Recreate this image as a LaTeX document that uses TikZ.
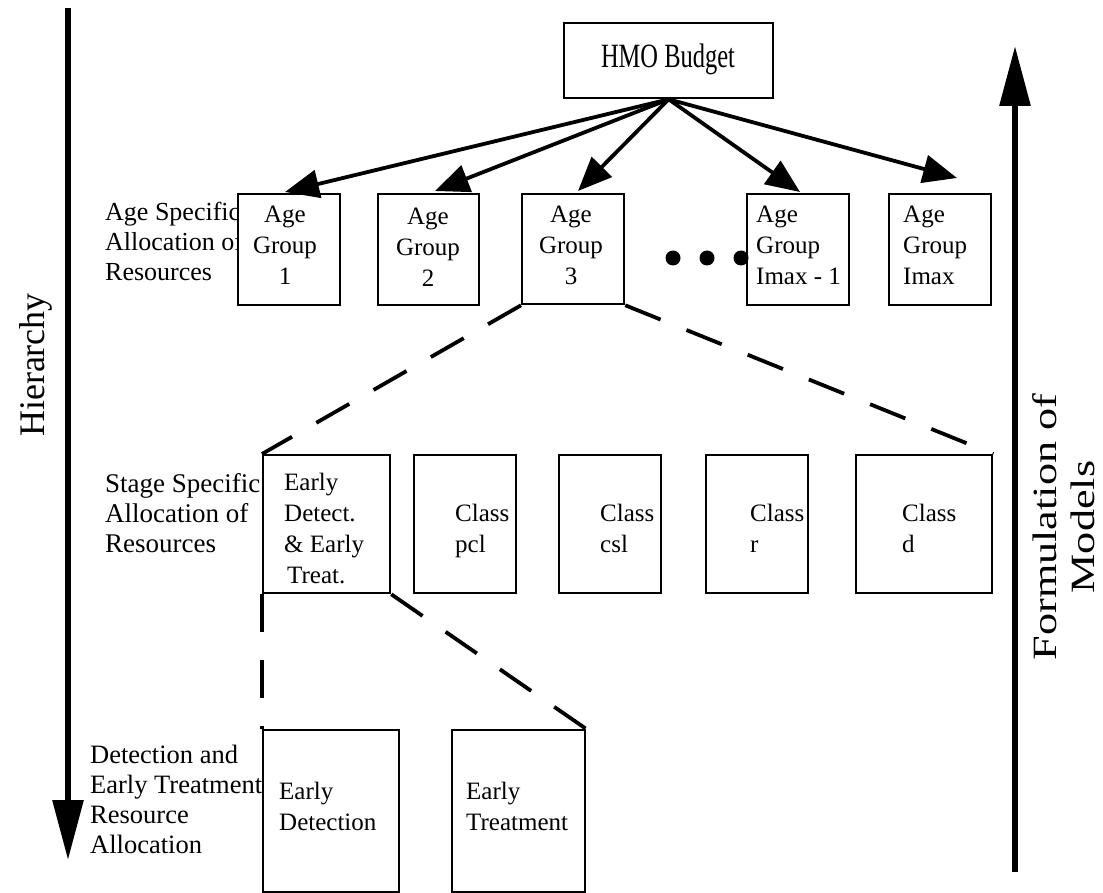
\documentclass[tikz,border=0pt]{standalone}
\usepackage{fontspec}
\setmainfont{Liberation Serif}
\usetikzlibrary{arrows.meta}
\begin{document}
\begin{tikzpicture}[x=1pt,y=-1pt,
  box/.style={draw, line width=2.3pt, fill=white, inner sep=0pt, anchor=north west},
  txt/.style={font=\fontsize{25}{31}\selectfont, inner sep=0pt, anchor=north west, align=left},
  ctxt/.style={font=\fontsize{25}{31}\selectfont, inner sep=0pt, anchor=north, align=center},
  lbl/.style={font=\fontsize{26}{30}\selectfont, inner sep=0pt, anchor=north west, align=left},
  fan/.style={line width=3.8pt, -{Triangle[length=34pt,width=28pt]}},
  dashline/.style={line width=3.8pt, dash pattern=on 38pt off 28pt},
  bigarrow/.style={line width=6pt, -{Triangle[length=60pt,width=30pt]}},
  dot/.style={circle, fill=black, inner sep=0pt, minimum size=15pt}
]
\useasboundingbox (0,0) rectangle (1103,893);

% side arrows
\coordinate (hTop) at (68,8);
\coordinate (hBot) at (68,860);
\draw[bigarrow] (hTop) -- (hBot);
\node[rotate=90, font=\fontsize{36}{40}\selectfont, inner sep=0pt] (hier) at (36,365) {Hierarchy};

\coordinate (fBot) at (1015,872);
\coordinate (fTop) at (1015,46);
\draw[bigarrow] (fBot) -- (fTop);
\node[rotate=90, font=\fontsize{34}{38}\selectfont, inner sep=0pt, align=center] (form) at (1064,527) {\scalebox{1.3}[1]{Formulation of}\\\scalebox{1.3}[1]{Models}};

% left labels (drawn before boxes so boxes cover them)
\node[lbl] (lab1) at (105,202) {Age Specific\\Allocation of\\Resources};
\node[lbl, font=\fontsize{27}{30}\selectfont] (lab2) at (105,473) {Stage Specific\\Allocation of\\Resources};
\node[lbl, font=\fontsize{26.5}{30}\selectfont] (lab3) at (90,745) {Detection and\\Early Treatment\\Resource\\Allocation};

% top box
\node[box, minimum width=209pt, minimum height=75pt] (hmo) at (563,22) {};
\node[font=\fontsize{34}{38}\selectfont, inner sep=0pt] (hmot) at (668,59) {\scalebox{0.72}[1]{HMO Budget}};

% age group boxes
\node[box, minimum width=102pt, minimum height=111pt] (ag1) at (237,193) {};
\node[box, minimum width=101pt, minimum height=111pt] (ag2) at (377,193) {};
\node[box, minimum width=102pt, minimum height=110pt] (ag3) at (521,193) {};
\node[box, minimum width=102pt, minimum height=111pt] (ag4) at (746,193) {};
\node[box, minimum width=102pt, minimum height=111pt] (ag5) at (888,193) {};
\node[ctxt] (ag1t) at (285,206) {Age\\Group\\1};
\node[ctxt] (ag2t) at (428,208) {Age\\Group\\2};
\node[ctxt] (ag3t) at (571,206) {Age\\Group\\3};
\node[txt] (ag4t) at (756,206) {Age\\Group\\Imax - 1};
\node[txt] (ag5t) at (903,206) {Age\\Group\\Imax};

\node[dot] (d1) at (673,258) {};
\node[dot] (d2) at (707,258) {};
\node[dot] (d3) at (741,258) {};

% fan arrows
\coordinate (e1) at (285,192);
\coordinate (e2) at (435,191);
\coordinate (e3) at (578,191);
\coordinate (e4) at (800,192);
\coordinate (e5) at (957,178);
\foreach \e in {e1,e2,e3,e4,e5} \draw[fan] (hmo.south) -- (\e);

% stage boxes
\node[box, minimum width=127pt, minimum height=138pt] (st1) at (262,454) {};
\node[box, minimum width=102pt, minimum height=138pt] (st2) at (413,454) {};
\node[box, minimum width=102pt, minimum height=138pt] (st3) at (558,454) {};
\node[box, minimum width=102pt, minimum height=138pt] (st4) at (705,454) {};
\node[box, minimum width=136pt, minimum height=138pt] (st5) at (855,454) {};
\node[txt] (st1t) at (284,473) {Early\\Detect.\\\&~Early\\\hspace*{3pt}Treat.};
\node[txt] (st2t) at (455,504) {Class\\pcl};
\node[txt] (st3t) at (600,504) {Class\\csl};
\node[txt] (st4t) at (750,504) {Class\\r};
\node[txt] (st5t) at (902,504) {Class\\d};

% bottom boxes
\node[box, minimum width=136pt, minimum height=162pt] (bd1) at (262,729) {};
\node[box, minimum width=133pt, minimum height=162pt] (bd2) at (451,729) {};
\node[txt] (bd1t) at (279,782) {Early\\Detection};
\node[txt] (bd2t) at (466,782) {Early\\Treatment};

% dashed connectors
\draw[dashline] (ag3.south west) -- (st1.north west);
\draw[dashline] (ag3.south east) -- (st5.north east);
\draw[dashline] (st1.south west) -- (bd1.north west);
\draw[dashline] (st1.south east) -- (bd2.north east);
\end{tikzpicture}
\end{document}
